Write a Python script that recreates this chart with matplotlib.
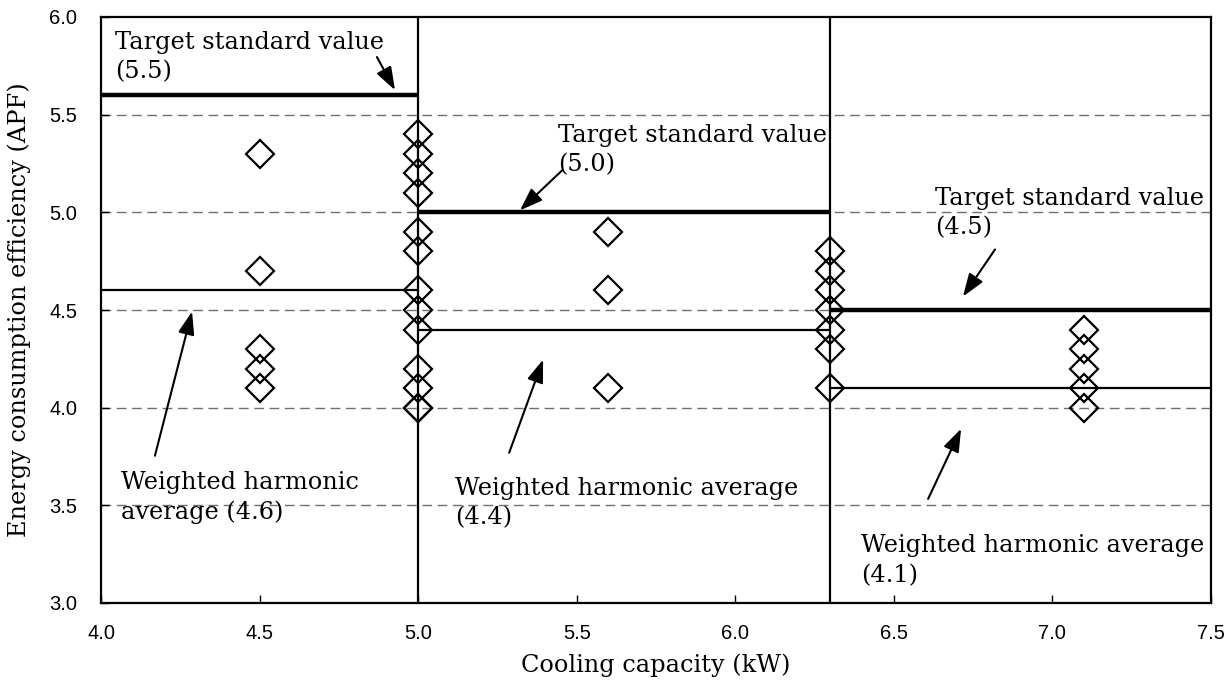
import matplotlib
matplotlib.use("Agg")
import matplotlib.pyplot as plt

# ---- data ----
x_45 = [4.5, 4.5, 4.5, 4.5, 4.5]
y_45 = [5.3, 4.7, 4.3, 4.2, 4.1]
x_50 = [5.0] * 13
y_50 = [5.4, 5.3, 5.2, 5.1, 4.9, 4.8, 4.6, 4.5, 4.4, 4.2, 4.1, 4.0, 4.0]
x_56 = [5.6, 5.6, 5.6]
y_56 = [4.9, 4.6, 4.1]
x_63 = [6.3] * 7
y_63 = [4.8, 4.7, 4.6, 4.5, 4.4, 4.3, 4.1]
x_71 = [7.1] * 5
y_71 = [4.4, 4.3, 4.2, 4.1, 4.0]

seg_edges = [4.0, 5.0, 6.3, 7.5]
target_lines = [5.6, 5.0, 4.5]
harmonic_avg = [4.6, 4.4, 4.1]
boundaries = [5.0, 6.3]

x_ticks = [4.0, 4.5, 5.0, 5.5, 6.0, 6.5, 7.0, 7.5]
y_ticks = [3.0, 3.5, 4.0, 4.5, 5.0, 5.5, 6.0]
grid_y = [3.5, 4.0, 4.5, 5.0, 5.5]

serif = ["DejaVu Serif"]
sans = ["Liberation Sans", "DejaVu Sans"]

fig = plt.figure(figsize=(12.32, 6.88), dpi=100)
ax = fig.add_axes([101/1232, 85/688, 1110/1232, 586/688])

ax.set_xlim(4.0, 7.5)
ax.set_ylim(3.0, 6.0)

for g in grid_y:
    ax.axhline(g, color="#707070", lw=1.0, ls=(0, (7, 4)), zorder=1)

mk = dict(marker="D", ms=14, mfc="none", mec="black", mew=1.6, ls="none", zorder=3)
for xs, ys in [(x_45, y_45), (x_50, y_50), (x_56, y_56), (x_63, y_63), (x_71, y_71)]:
    ax.plot(xs, ys, **mk)

for i in range(3):
    ax.plot([seg_edges[i], seg_edges[i+1]], [target_lines[i]] * 2, color="black", lw=3.2, zorder=4, solid_capstyle="butt")
    ax.plot([seg_edges[i], seg_edges[i+1]], [harmonic_avg[i]] * 2, color="black", lw=1.6, zorder=4, solid_capstyle="butt")
for b in boundaries:
    ax.axvline(b, color="black", lw=1.6, zorder=4)

for s in ax.spines.values():
    s.set_linewidth(1.6)

ax.set_xticks(x_ticks)
ax.set_yticks(y_ticks)
ax.set_xticklabels([f"{v:.1f}" for v in x_ticks], fontfamily=sans, fontsize=14.5)
ax.set_yticklabels([f"{v:.1f}" for v in y_ticks], fontfamily=sans, fontsize=14.5)
ax.tick_params(direction="in", length=6, width=1)
ax.tick_params(axis="x", pad=15)
ax.tick_params(axis="y", pad=17)

ax.set_xlabel("Cooling capacity (kW)", fontfamily=serif, fontsize=17.3, labelpad=8)
ax.set_ylabel("Energy consumption efficiency (APF)", fontfamily=serif, fontsize=17.3, labelpad=13)

tfs = 17.3
line_gap = 0.158  # one text line, in data units of y
def note(text, txt_xy, tail, tip):
    ax.text(txt_xy[0], txt_xy[1] - line_gap, text, fontfamily=serif, fontsize=tfs, va="baseline", ha="left",
            linespacing=1.35, zorder=5)
    ax.annotate("", xy=tip, xytext=tail,
                arrowprops=dict(arrowstyle="-|>,head_length=1.4,head_width=0.5", color="black", lw=1.5,
                                shrinkA=0, shrinkB=0), zorder=5)

note("Target standard value\n(5.5)", (4.044, 5.846), (4.870, 5.795), (4.927, 5.626))
note("Target standard value\n(5.0)", (5.441, 5.369), (5.454, 5.215), (5.321, 5.010))
note("Target standard value\n(4.5)", (6.630, 5.046), (6.819, 4.810), (6.718, 4.569))
note("Weighted harmonic\naverage (4.6)", (4.063, 3.590), (4.170, 3.754), (4.287, 4.492))
note("Weighted harmonic average\n(4.4)", (5.116, 3.559), (5.287, 3.769), (5.394, 4.246))
note("Weighted harmonic average\n(4.1)", (6.396, 3.267), (6.608, 3.533), (6.712, 3.892))

fig.savefig("out.png", dpi=100)
